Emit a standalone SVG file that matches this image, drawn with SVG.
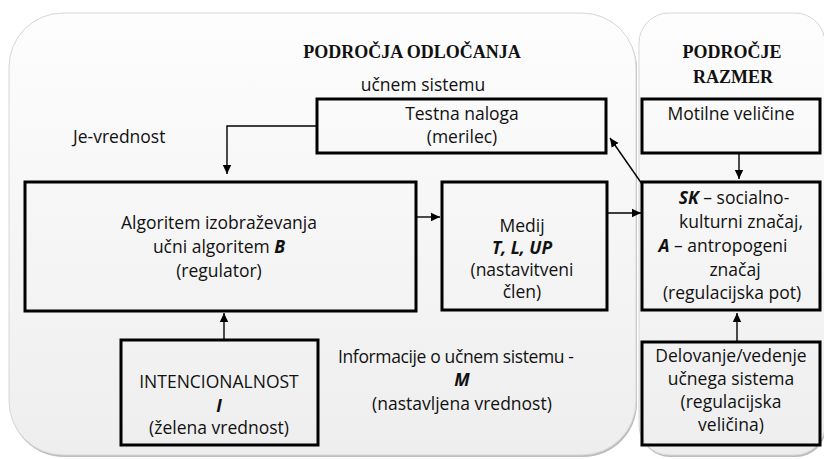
<svg xmlns="http://www.w3.org/2000/svg" width="824" height="459" viewBox="0 0 824 459">
<style>
.panel{stroke:#d6d6d6;stroke-width:1}
.box{fill:none;stroke:#000;stroke-width:3}
.t{font-family:"Open Sans","Liberation Sans",sans-serif;font-size:17.5px;fill:#111}
.c{text-anchor:middle}
.bi{font-weight:bold;font-style:italic}
.title{font-family:"Liberation Serif","Times New Roman",serif;font-weight:bold;font-size:18px;fill:#111;text-anchor:middle}
.conn{fill:none;stroke:#000;stroke-width:1.4}
</style>
<defs>
<linearGradient id="pg" x1="0" y1="0" x2="0" y2="1">
<stop offset="0" stop-color="#fdfdfd"/>
<stop offset="1" stop-color="#eeeeee"/>
</linearGradient>
<marker id="ah" markerUnits="userSpaceOnUse" markerWidth="10" markerHeight="10" refX="9" refY="5" orient="auto">
<path d="M0,0.8 L9,5 L0,9.2 z" fill="#000"/>
</marker>
</defs>
<rect width="824" height="459" fill="#ffffff"/>
<g id="panel-odlocanja">
<rect x="10" y="15" width="627" height="442" rx="54" fill="#bdbdbd"/>
<rect class="panel" x="9" y="13" width="627" height="442" rx="54" fill="url(#pg)"/>
<text class="title" x="412" y="58">PODROČJA ODLOČANJA</text>
</g>
<g id="panel-razmer">
<rect x="640" y="15" width="186" height="442" rx="30" fill="#bdbdbd"/>
<rect class="panel" x="639" y="13" width="186" height="442" rx="30" fill="url(#pg)"/>
<text class="title" x="732" y="58">PODROČJE</text>
<text class="title" x="733" y="83">RAZMER</text>
</g>
<g id="label-ucnem">
<text class="t c" x="423" y="91">učnem sistemu</text>
</g>
<g id="label-je-vrednost">
<text class="t" x="73" y="143">Je-vrednost</text>
</g>
<g id="label-informacije">
<text class="t" x="338" y="363" textLength="236" lengthAdjust="spacing">Informacije o učnem sistemu -</text>
<text class="t c bi" x="462" y="386">M</text>
<text class="t c" x="462" y="410">(nastavljena vrednost)</text>
</g>
<g id="node-testna">
<rect class="box" x="317" y="99" width="289" height="54"/>
<text class="t c" x="462" y="120">Testna naloga</text>
<text class="t c" x="462" y="143">(merilec)</text>
</g>
<g id="node-motilne">
<rect class="box" x="642" y="99" width="178" height="54"/>
<text class="t c" x="731" y="120">Motilne veličine</text>
</g>
<g id="node-algoritem">
<rect class="box" x="25" y="182" width="391" height="129"/>
<text class="t c" x="219" y="229">Algoritem izobraževanja</text>
<text class="t c" x="219" y="253">učni algoritem <tspan class="bi">B</tspan></text>
<text class="t c" x="219" y="277">(regulator)</text>
</g>
<g id="node-medij">
<rect class="box" x="442" y="182" width="165" height="128"/>
<text class="t c" x="522" y="232">Medij</text>
<text class="t c bi" x="522" y="254">T, L, UP</text>
<text class="t c" x="522" y="276">(nastavitveni</text>
<text class="t c" x="522" y="298">člen)</text>
</g>
<g id="node-sk">
<rect class="box" x="642" y="182" width="178" height="128"/>
<text class="t c" x="734" y="204"><tspan class="bi">SK</tspan> – socialno-</text>
<text class="t c" x="741" y="228">kulturni značaj,</text>
<text class="t c" x="723" y="252"><tspan class="bi">A</tspan> – antropogeni</text>
<text class="t c" x="735" y="276">značaj</text>
<text class="t c" x="732" y="299">(regulacijska pot)</text>
</g>
<g id="node-intencionalnost">
<rect class="box" x="121" y="340" width="197" height="105"/>
<text class="t c" x="219" y="388">INTENCIONALNOST</text>
<text class="t c bi" x="219" y="412">I</text>
<text class="t c" x="219" y="434">(želena vrednost)</text>
</g>
<g id="node-delovanje">
<rect class="box" x="642" y="342" width="178" height="103"/>
<text class="t c" x="731" y="362">Delovanje/vedenje</text>
<text class="t c" x="731" y="385">učnega sistema</text>
<text class="t c" x="731" y="408">(regulacijska</text>
<text class="t c" x="731" y="431">veličina)</text>
</g>
<g id="connectors">
<path class="conn" d="M317,126 H227 V174" marker-end="url(#ah)"/>
<path class="conn" d="M416,217 H440" marker-end="url(#ah)"/>
<path class="conn" d="M608,213 H641" marker-end="url(#ah)"/>
<path class="conn" d="M642,184 L610,138" marker-end="url(#ah)"/>
<path class="conn" d="M739,154 V179" marker-end="url(#ah)"/>
<path class="conn" d="M737,341 V313" marker-end="url(#ah)"/>
<path class="conn" d="M224,339 V313" marker-end="url(#ah)"/>
</g>
</svg>
